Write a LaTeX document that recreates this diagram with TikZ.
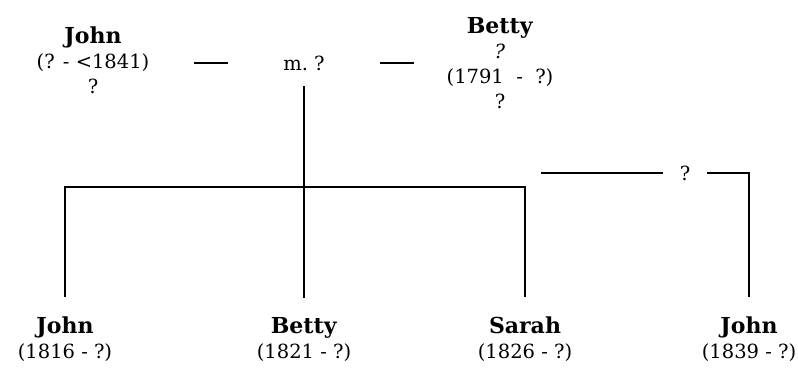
\documentclass[tikz,border=0pt]{standalone}
\usepackage{fontspec}
\setmainfont{DejaVu Serif}
\usepackage{tikz}
\usetikzlibrary{positioning,calc}
\newcommand{\pname}[1]{{\fontsize{22}{25}\selectfont\textbf{#1}}}

\begin{document}
\begin{tikzpicture}[x=1pt, y=-1pt, font=\fontsize{19.5}{25}\selectfont,
    line/.style={line width=2pt},
    person/.style={align=center, inner sep=0pt}]
  \useasboundingbox (0,0) rectangle (798,368);

  % parents
  \node[person] (john) at (93,60) {\pname{John}\\(? - <1841)\\?};
  \node[minimum width=152pt, minimum height=46pt, inner sep=0pt] (marr) at (304,63) {m.~?};
  \node[person] (betty) at (500,63) {\pname{Betty}\\\textit{?}\\(1791 ~-~ ?)\\?};
  \draw[line] ([xshift=-34pt]marr.west) -- (marr.west);
  \draw[line] (marr.east) -- ([xshift=34pt]marr.east);

  % children
  \coordinate (bar) at (303,187);
  \node[person] (kJohn) at (65,339) {\pname{John}\\(1816 - ?)};
  \node[person] (kBetty) at (304,339) {\pname{Betty}\\(1821 - ?)};
  \node[person] (kSarah) at (525,339) {\pname{Sarah}\\(1826 - ?)};
  \node[person] (kJohnB) at (749,339) {\pname{John}\\(1839 - ?)};

  \draw[line] (marr.south) -- ([yshift=19pt]kBetty.north);
  \draw[line] ([yshift=19pt]kJohn.north) |- (bar) -| ([yshift=19pt]kSarah.north);

  % other partner
  \coordinate (half) at (541,173);
  \node[minimum width=44pt, inner sep=0pt] (other) at (685,173) {?};
  \draw[line] (half) -- (other.west);
  \draw[line] (other.east) -| ([yshift=19pt]kJohnB.north);
\end{tikzpicture}
\end{document}
